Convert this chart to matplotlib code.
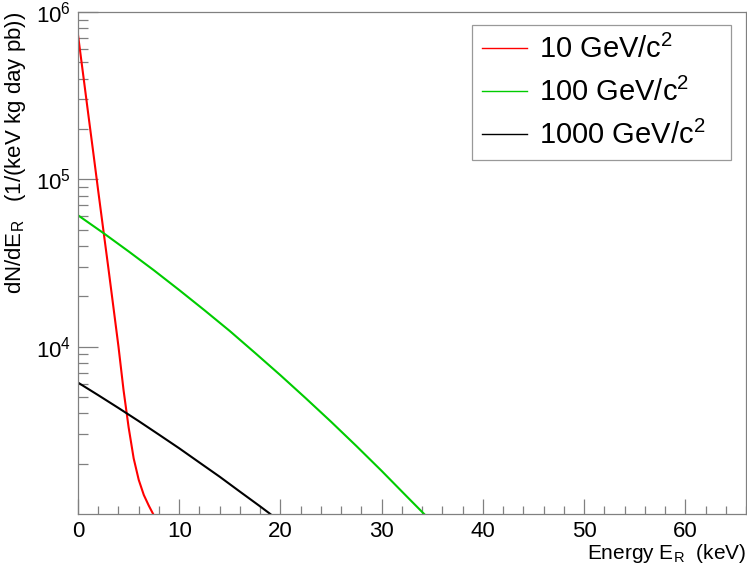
import matplotlib
matplotlib.use('Agg')
import matplotlib.pyplot as plt
from matplotlib.ticker import LogLocator, MultipleLocator, FixedLocator, LogFormatterMathtext, NullFormatter
from matplotlib.lines import Line2D

plt.rcParams['font.family'] = ['Liberation Sans', 'DejaVu Sans']
plt.rcParams['mathtext.fontset'] = 'custom'
plt.rcParams['mathtext.rm'] = 'Liberation Sans'
plt.rcParams['mathtext.it'] = 'Liberation Sans:italic'
plt.rcParams['mathtext.default'] = 'regular'

# recoil spectra (E in keV, dN/dE)
e_10 = [0.0, 0.5, 1.0, 1.5, 2.0, 2.5, 3.0, 3.5, 4.0, 4.5, 5.0, 5.5, 6.0, 6.5, 7.0, 7.5]
r_10 = [7.3e5, 4.27e5, 2.49e5, 1.46e5, 8.5e4, 5.0e4, 2.95e4, 1.72e4, 1.0e4, 5.5e3,
        3.3e3, 2.15e3, 1.6e3, 1.3e3, 1.12e3, 0.98e3]

e_100 = [0.0, 2.5, 5.0, 7.5, 10.0, 12.5, 15.0, 17.5, 20.0, 22.5, 25.0, 27.5, 30.0, 32.5, 34.2]
r_100 = [6.1e4, 4.78e4, 3.71e4, 2.86e4, 2.18e4, 1.65e4, 1.24e4, 9.17e3, 6.75e3, 4.92e3,
         3.56e3, 2.55e3, 1.81e3, 1.27e3, 1.0e3]

e_1000 = [0.0, 2.0, 4.0, 6.0, 8.0, 10.0, 12.0, 14.0, 16.0, 18.0, 19.0]
r_1000 = [6.1e3, 5.13e3, 4.30e3, 3.59e3, 2.98e3, 2.47e3, 2.03e3, 1.67e3, 1.36e3, 1.11e3, 1.0e3]

labels = ['10 GeV/c$^{2}$', '100 GeV/c$^{2}$', '1000 GeV/c$^{2}$']
colors = ['#ff0000', '#00cc00', '#000000']

fig = plt.figure(figsize=(7.47, 5.72), dpi=100)
ax = fig.add_axes([78/747, 1 - 514/572, 668/747, 502/572])

for e, r, c in zip([e_10, e_100, e_1000], [r_10, r_100, r_1000], colors):
    ax.plot(e, r, color=c, lw=1.5)

ax.set_yscale('log')
ax.set_xlim(0, 66)
ax.set_ylim(1e3, 1e6)

ax.xaxis.set_major_locator(MultipleLocator(10))
ax.xaxis.set_minor_locator(MultipleLocator(2))
ax.yaxis.set_major_locator(FixedLocator([1e4, 1e5, 1e6]))
ax.yaxis.set_minor_locator(LogLocator(base=10, subs=range(2, 10)))
ax.yaxis.set_major_formatter(LogFormatterMathtext())
ax.yaxis.set_minor_formatter(NullFormatter())

grey = '#808080'
for s in ax.spines.values():
    s.set_color(grey)
    s.set_linewidth(0.9)
ax.tick_params(axis='both', which='both', direction='in', color=grey, width=0.9,
               labelsize=16, top=False, right=False)
ax.tick_params(axis='y', which='major', length=14.5, pad=5)
ax.tick_params(axis='y', which='minor', length=7)
ax.tick_params(axis='x', which='major', length=11, pad=5)
ax.tick_params(axis='x', which='minor', length=5.5)

ax.set_xlabel('Energy E$_{R}$  (keV)', fontsize=15, loc='right', labelpad=0)
ax.set_ylabel('dN/dE$_{R}$   (1/(keV kg day pb))', fontsize=16, loc='top', labelpad=6)

handles = [Line2D([], [], color=c, lw=1.0) for c in colors]
leg = ax.legend(handles, labels, loc='upper left', mode='expand',
                bbox_to_anchor=((471.7 - 78) / 668, (514 - 25) / 502 - 0.2616, 259 / 668, 0.2616),
                borderaxespad=0, fontsize=21, frameon=True, fancybox=False,
                handlelength=1.55, handletextpad=0.4, labelspacing=0.47, borderpad=0.35)
leg.get_frame().set_edgecolor(grey)
leg.get_frame().set_linewidth(0.9)

fig.savefig('out.png', dpi=100)
